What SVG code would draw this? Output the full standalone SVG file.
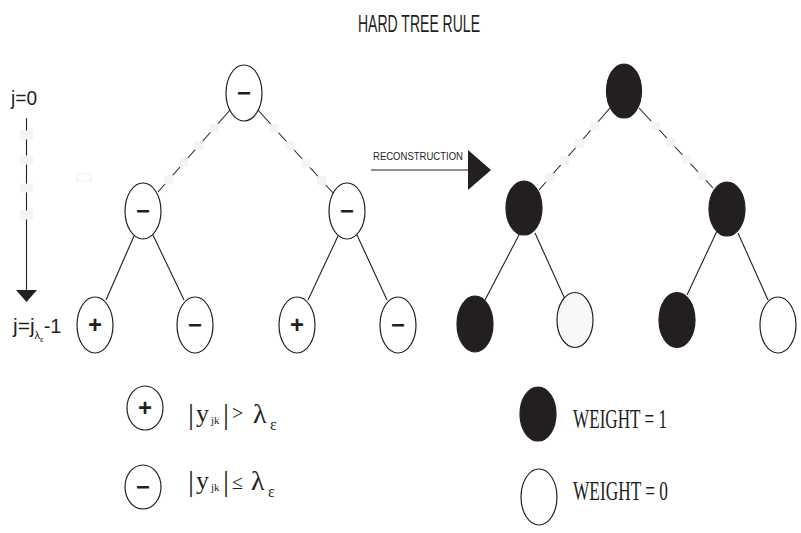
<svg xmlns="http://www.w3.org/2000/svg" width="801" height="533" viewBox="0 0 801 533">
<style>
.n{stroke:#231f20;stroke-width:1.2;fill:#fff}
.b{stroke:#231f20;stroke-width:1.2;fill:#231f20}
.e{stroke:#231f20;stroke-width:1.1;fill:none}
.sq{fill:#f3f4f3;stroke:none}
.s{font-family:"Liberation Sans",Arial,sans-serif;font-size:24px;font-weight:bold;fill:#231f20;text-anchor:middle}
.sans{font-family:"Liberation Sans",Arial,sans-serif;fill:#231f20}
.serif{font-family:"Liberation Serif","Times New Roman",serif;fill:#231f20}
</style>
<rect width="801" height="533" fill="#fff"/>
<text class="sans" x="358" y="32" font-size="24" textLength="122" lengthAdjust="spacingAndGlyphs">HARD TREE RULE</text>

<g id="axis">
<line class="e" x1="26.5" y1="118" x2="26.5" y2="291"/>
<rect class="sq" x="20" y="130.5" width="13" height="9"/>
<rect class="sq" x="20" y="155.5" width="13" height="9"/>
<rect class="sq" x="20" y="183.5" width="13" height="9"/>
<rect class="sq" x="20" y="210.5" width="13" height="9"/>
<polygon points="16,290 37,290 26.5,302" fill="#231f20"/>
<text class="sans" x="11" y="105" font-size="21" textLength="26" lengthAdjust="spacingAndGlyphs">j=0</text>
<text class="sans" x="13" y="333" font-size="21">j=j<tspan font-size="11" dy="6">λ</tspan><tspan font-size="8" dy="3">ε</tspan><tspan font-size="20" dy="-9">-1</tspan></text>
</g>
<rect x="77" y="174" width="14" height="7" fill="none" stroke="#e8eae8" stroke-width="0.8"/>

<g id="connectors">
<line class="e" x1="230" y1="110" x2="158" y2="192"/>
<line class="e" x1="258" y1="110" x2="333" y2="193"/>
<line class="e" x1="134" y1="236" x2="106" y2="300"/>
<line class="e" x1="153" y1="235" x2="184" y2="300"/>
<line class="e" x1="338" y1="236" x2="308" y2="300"/>
<line class="e" x1="357" y1="235" x2="387" y2="300"/>
<line class="e" x1="610" y1="108" x2="539" y2="190"/>
<line class="e" x1="639" y1="108" x2="713" y2="188"/>
<line class="e" x1="520" y1="233" x2="485" y2="300"/>
<line class="e" x1="535" y1="233" x2="564" y2="297"/>
<line class="e" x1="717" y1="231" x2="687" y2="295"/>
<line class="e" x1="738" y1="233" x2="768" y2="300"/>
<rect class="sq" x="209.7" y="123.5" width="9" height="9"/>
<rect class="sq" x="194.5" y="140.8" width="9" height="9"/>
<rect class="sq" x="179.4" y="158" width="9" height="9"/>
<rect class="sq" x="164.3" y="175.2" width="9" height="9"/>
<rect class="sq" x="270" y="123.8" width="9" height="9"/>
<rect class="sq" x="285.8" y="141.2" width="9" height="9"/>
<rect class="sq" x="301.5" y="158.6" width="9" height="9"/>
<rect class="sq" x="317.3" y="176.1" width="9" height="9"/>
<rect class="sq" x="589.9" y="121.5" width="9" height="9"/>
<rect class="sq" x="575" y="138.8" width="9" height="9"/>
<rect class="sq" x="560.1" y="156" width="9" height="9"/>
<rect class="sq" x="545.2" y="173.2" width="9" height="9"/>
<rect class="sq" x="650.8" y="121.1" width="9" height="9"/>
<rect class="sq" x="666.3" y="137.9" width="9" height="9"/>
<rect class="sq" x="681.9" y="154.7" width="9" height="9"/>
<rect class="sq" x="697.4" y="171.5" width="9" height="9"/>
</g>

<g id="reconstruction">
<line class="e" x1="371" y1="170" x2="470" y2="170"/>
<polygon points="468,150 468,190 491,170" fill="#231f20"/>
<text class="sans" x="373" y="160" font-size="11" textLength="90" lengthAdjust="spacingAndGlyphs">RECONSTRUCTION</text>
</g>

<g id="L_root"><ellipse class="n" cx="244" cy="93" rx="18" ry="28"/><text class="s" x="244" y="101">−</text></g>
<g id="L_c1"><ellipse class="n" cx="143" cy="211" rx="18" ry="28"/><text class="s" x="143" y="219">−</text></g>
<g id="L_c2"><ellipse class="n" cx="347" cy="211" rx="18" ry="28"/><text class="s" x="347" y="219">−</text></g>
<g id="L_l1"><ellipse class="n" cx="95" cy="325" rx="18" ry="28"/><text class="s" x="95" y="333">+</text></g>
<g id="L_l2"><ellipse class="n" cx="195" cy="325" rx="18" ry="28"/><text class="s" x="195" y="333">−</text></g>
<g id="L_l3"><ellipse class="n" cx="297" cy="325" rx="18" ry="28"/><text class="s" x="297" y="333">+</text></g>
<g id="L_l4"><ellipse class="n" cx="398" cy="325" rx="18" ry="28"/><text class="s" x="398" y="333">−</text></g>

<g id="R_root"><ellipse class="b" cx="624" cy="91" rx="17.5" ry="27"/></g>
<g id="R_c1"><ellipse class="b" cx="524" cy="208" rx="18" ry="27"/></g>
<g id="R_c2"><ellipse class="b" cx="727" cy="209" rx="18" ry="27"/></g>
<g id="R_l1"><ellipse class="b" cx="475" cy="324" rx="18" ry="28"/></g>
<g id="R_l2"><ellipse class="n" cx="575" cy="320" rx="18" ry="27.5" style="fill:#f6f8f6"/></g>
<g id="R_l3"><ellipse class="b" cx="677" cy="320" rx="18" ry="27.5"/></g>
<g id="R_l4"><ellipse class="n" cx="778" cy="325" rx="18" ry="28"/></g>

<g id="legend_plus">
<ellipse class="n" cx="145" cy="408" rx="18" ry="22"/><text class="s" x="145" y="416">+</text>
<text class="serif" font-size="30"><tspan x="188" y="424">|</tspan><tspan x="196" y="422" font-size="26">y</tspan><tspan x="211" y="424" font-size="11">jk</tspan><tspan x="223" y="424">|</tspan><tspan x="232" y="420" font-size="20">&gt;</tspan><tspan x="253" y="423" font-size="28">λ</tspan><tspan x="270" y="430" font-size="16">ε</tspan></text>
</g>
<g id="legend_minus">
<ellipse class="n" cx="143" cy="487" rx="18" ry="22"/><text class="s" x="143" y="495">−</text>
<text class="serif" font-size="30"><tspan x="188" y="491">|</tspan><tspan x="196" y="489" font-size="26">y</tspan><tspan x="211" y="491" font-size="11">jk</tspan><tspan x="223" y="491">|</tspan><tspan x="232" y="489" font-size="20">≤</tspan><tspan x="251" y="490" font-size="28">λ</tspan><tspan x="268" y="497" font-size="16">ε</tspan></text>
</g>
<g id="legend_w1">
<ellipse class="b" cx="538" cy="414" rx="18" ry="27"/>
<text class="serif" x="573" y="428" font-size="28" textLength="94" lengthAdjust="spacingAndGlyphs">WEIGHT = 1</text>
</g>
<g id="legend_w0">
<ellipse class="n" cx="539" cy="497" rx="18" ry="28"/>
<text class="serif" x="573" y="500" font-size="28" textLength="95" lengthAdjust="spacingAndGlyphs">WEIGHT = 0</text>
</g>
</svg>
